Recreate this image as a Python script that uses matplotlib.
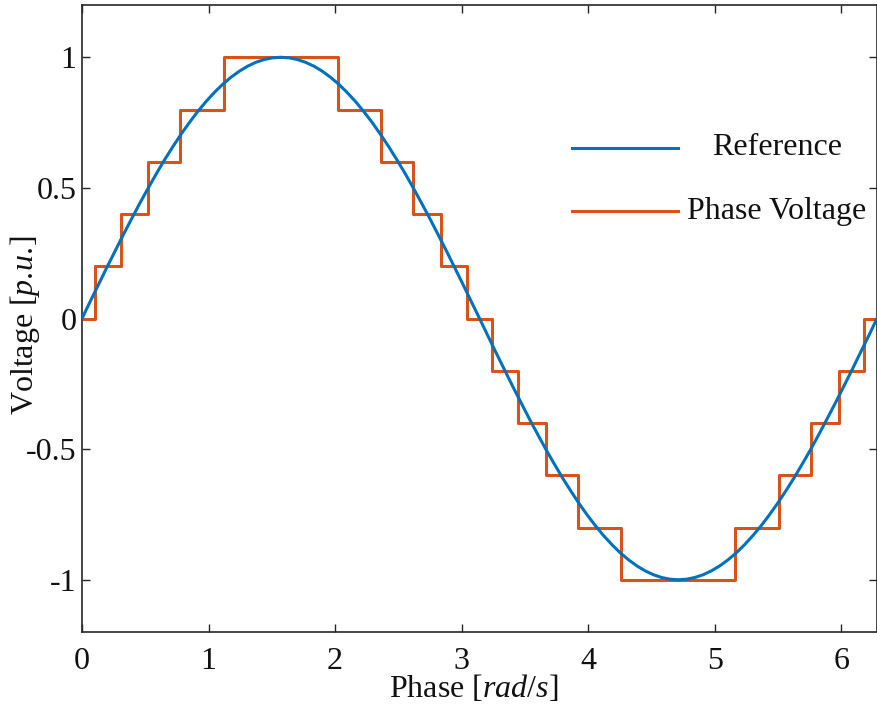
import matplotlib
matplotlib.use("Agg")
import matplotlib.pyplot as plt
from matplotlib.lines import Line2D

plt.rcParams['font.family'] = ['Liberation Serif', 'DejaVu Serif']
plt.rcParams['mathtext.fontset'] = 'custom'
plt.rcParams['mathtext.rm'] = 'Liberation Serif'
plt.rcParams['mathtext.it'] = 'Liberation Serif:italic'
plt.rcParams['axes.unicode_minus'] = False

# Reference sine, sampled every pi/48
phase_ref = [0.000, 0.065, 0.131, 0.196, 0.262, 0.327, 0.393, 0.458, 0.524, 0.589,
             0.654, 0.720, 0.785, 0.851, 0.916, 0.982, 1.047, 1.113, 1.178, 1.244,
             1.309, 1.374, 1.440, 1.505, 1.571, 1.636, 1.702, 1.767, 1.833, 1.898,
             1.963, 2.029, 2.094, 2.160, 2.225, 2.291, 2.356, 2.422, 2.487, 2.553,
             2.618, 2.683, 2.749, 2.814, 2.880, 2.945, 3.011, 3.076, 3.142, 3.207,
             3.272, 3.338, 3.403, 3.469, 3.534, 3.600, 3.665, 3.731, 3.796, 3.862,
             3.927, 3.992, 4.058, 4.123, 4.189, 4.254, 4.320, 4.385, 4.451, 4.516,
             4.581, 4.647, 4.712, 4.778, 4.843, 4.909, 4.974, 5.040, 5.105, 5.171,
             5.236, 5.301, 5.367, 5.432, 5.498, 5.563, 5.629, 5.694, 5.760, 5.825,
             5.890, 5.956, 6.021, 6.087, 6.152, 6.218, 6.283]
volt_ref = [0.0, 0.0654, 0.1305, 0.1951, 0.2588, 0.3214, 0.3827, 0.4423, 0.5, 0.5556,
            0.6088, 0.6593, 0.7071, 0.7518, 0.7934, 0.8315, 0.8660, 0.8969, 0.9239, 0.9469,
            0.9659, 0.9808, 0.9914, 0.9979, 1.0, 0.9979, 0.9914, 0.9808, 0.9659, 0.9469,
            0.9239, 0.8969, 0.8660, 0.8315, 0.7934, 0.7518, 0.7071, 0.6593, 0.6088, 0.5556,
            0.5, 0.4423, 0.3827, 0.3214, 0.2588, 0.1951, 0.1305, 0.0654, 0.0, -0.0654,
            -0.1305, -0.1951, -0.2588, -0.3214, -0.3827, -0.4423, -0.5, -0.5556, -0.6088, -0.6593,
            -0.7071, -0.7518, -0.7934, -0.8315, -0.8660, -0.8969, -0.9239, -0.9469, -0.9659, -0.9808,
            -0.9914, -0.9979, -1.0, -0.9979, -0.9914, -0.9808, -0.9659, -0.9469, -0.9239, -0.8969,
            -0.8660, -0.8315, -0.7934, -0.7518, -0.7071, -0.6593, -0.6088, -0.5556, -0.5, -0.4423,
            -0.3827, -0.3214, -0.2588, -0.1951, -0.1305, -0.0654, 0.0]

# Staircase phase voltage: switching instants and levels
step_edges = [0.000, 0.100, 0.305, 0.524, 0.775, 1.120, 2.022, 2.366, 2.618, 2.837,
              3.042, 3.242, 3.447, 3.665, 3.917, 4.262, 5.163, 5.508, 5.760, 5.979,
              6.183, 6.283]
step_levels = [0.0, 0.2, 0.4, 0.6, 0.8, 1.0, 0.8, 0.6, 0.4, 0.2,
               0.0, -0.2, -0.4, -0.6, -0.8, -1.0, -0.8, -0.6, -0.4, -0.2,
               0.0, 0.0]

xticks = [0, 1, 2, 3, 4, 5, 6]
yticks = [-1, -0.5, 0, 0.5, 1]
ytick_labels = ['-1', '-0.5', '0', '0.5', '1']

blue = '#0072BD'
orange = '#D95319'
axis_col = '#262626'
txt_col = '#111111'
fs = 23

fig = plt.figure(figsize=(8.78, 7.19), dpi=100)
ax = fig.add_axes([0.0934, 0.121, 0.9055, 0.872])

ax.plot(phase_ref, volt_ref, color=blue, lw=2.2, zorder=3)
ax.step(step_edges, step_levels, where='post', color=orange, lw=2.2, zorder=2)

ax.set_xlim(0, 6.2832)
ax.set_ylim(-1.2, 1.2)
ax.set_xticks(xticks)
ax.set_yticks(yticks)
ax.set_yticklabels(ytick_labels)
ax.tick_params(direction='in', top=True, right=True, length=6, width=1,
               color=axis_col, labelsize=fs, labelcolor=txt_col)
ax.tick_params(axis='x', pad=10.5)
ax.tick_params(axis='y', pad=4)
for s in ax.spines.values():
    s.set_color(axis_col)
    s.set_linewidth(1.2)

# \! cancels the extra space mathtext puts after dots
ax.set_xlabel(r'Phase [$\mathit{rad/s}$]', fontsize=fs, color=txt_col)
ax.set_ylabel(r'Voltage [$\mathit{p.\!u.\!}$]', fontsize=fs, color=txt_col)
ax.xaxis.set_label_coords(0.493, -0.066)
ax.yaxis.set_label_coords(-0.05, 0.49)

# legend drawn by hand so labels are centred like the original
leg_rows = [('Reference', blue, 0.772), ('Phase Voltage', orange, 0.671)]
for label, col, yy in leg_rows:
    ax.add_line(Line2D([0.616, 0.750], [yy, yy], transform=ax.transAxes,
                       color=col, lw=2.2))
    ax.text(0.874, yy, label, transform=ax.transAxes, ha='center', va='center',
            fontsize=fs, color=txt_col)

fig.savefig('out.png', dpi=100)
